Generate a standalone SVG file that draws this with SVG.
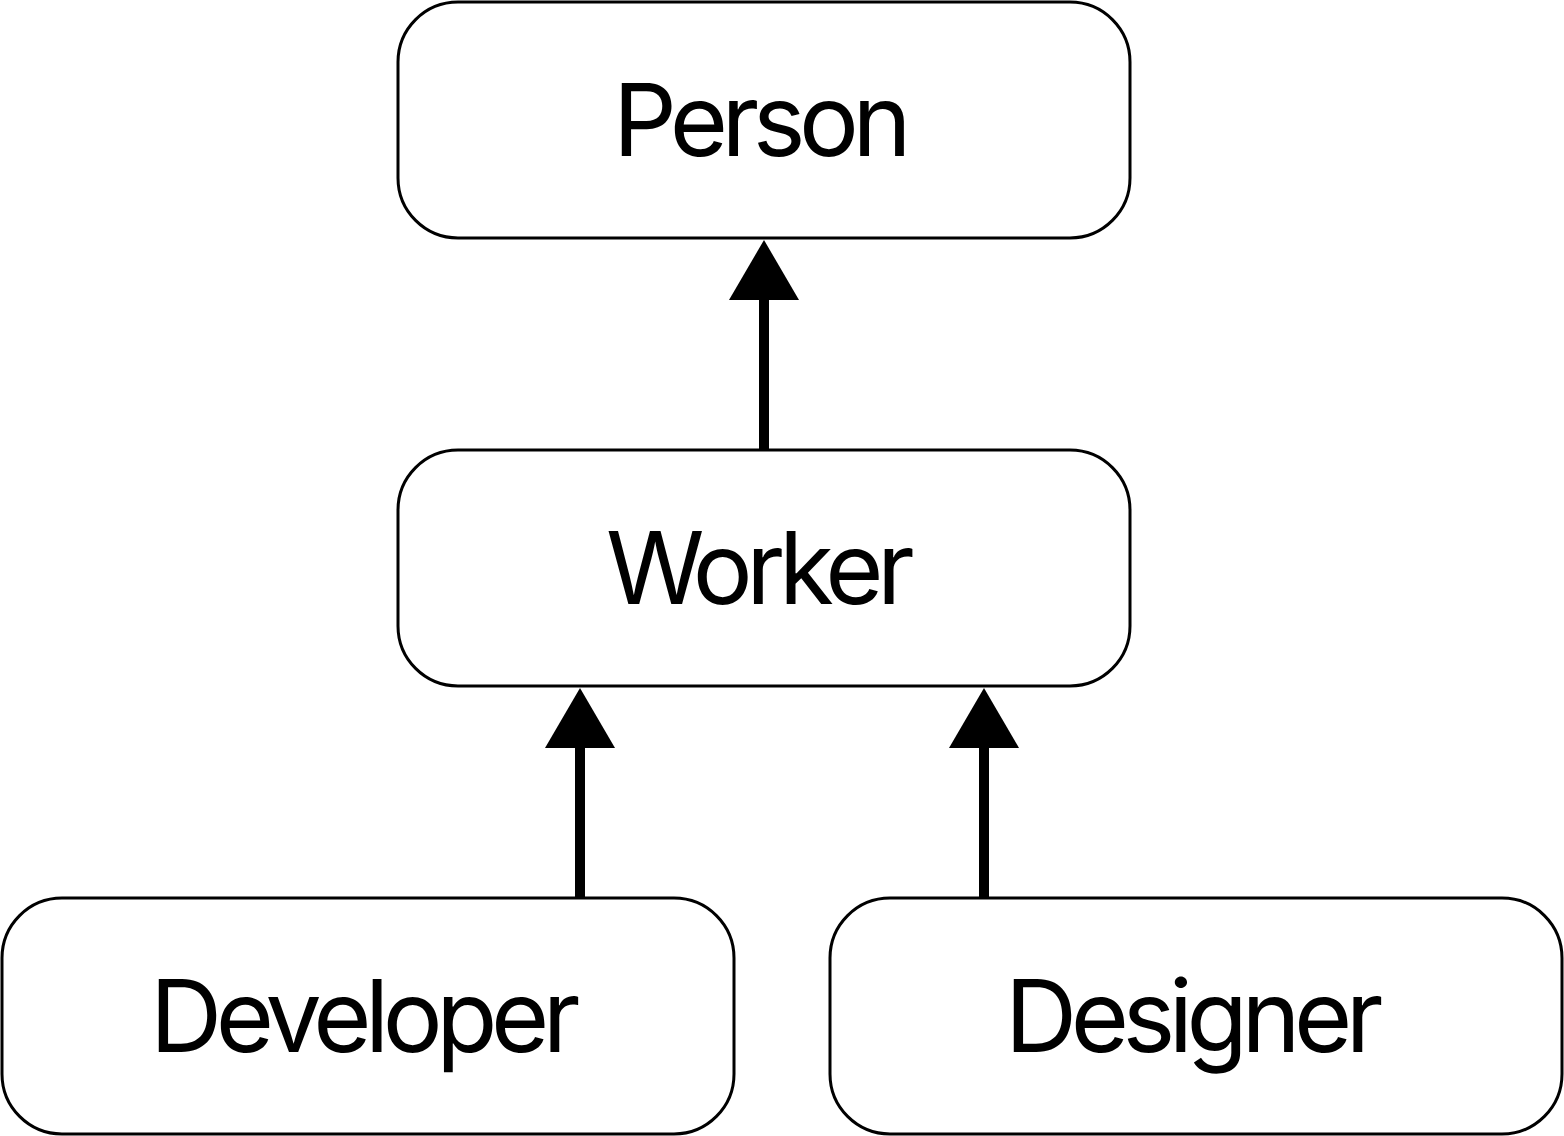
<svg xmlns="http://www.w3.org/2000/svg" width="1564" height="1136" viewBox="0 0 1564 1136">
<style>
.box{fill:#fff;stroke:#000;stroke-width:3}
.lbl{font-family:Inter,"Liberation Sans",sans-serif;font-size:100px;letter-spacing:-6.5px;text-anchor:middle;fill:#000}
.edge{stroke:#000;stroke-width:10;fill:none}
.head{fill:#000;stroke:none}
</style>
<rect width="1564" height="1136" fill="#fff"/>
<g id="person"><rect class="box" x="398" y="2" width="732" height="236" rx="60"/><text class="lbl" x="759" y="156">Person</text></g>
<g id="worker"><rect class="box" x="398" y="450" width="732" height="236" rx="60"/><text class="lbl" x="757" y="604">Worker</text></g>
<g id="developer"><rect class="box" x="2" y="898" width="732" height="236" rx="60"/><text class="lbl" x="362" y="1052">Developer</text></g>
<g id="designer"><rect class="box" x="830" y="898" width="732" height="236" rx="60"/><text class="lbl" x="1191" y="1052">Designer</text></g>
<g id="connectors">
<line class="edge" x1="764" y1="450" x2="764" y2="296"/><polygon class="head" points="764,240 799,300 729,300"/>
<line class="edge" x1="580" y1="898" x2="580" y2="744"/><polygon class="head" points="580,688 615,748 545,748"/>
<line class="edge" x1="984" y1="898" x2="984" y2="744"/><polygon class="head" points="984,688 1019,748 949,748"/>
</g>
</svg>
